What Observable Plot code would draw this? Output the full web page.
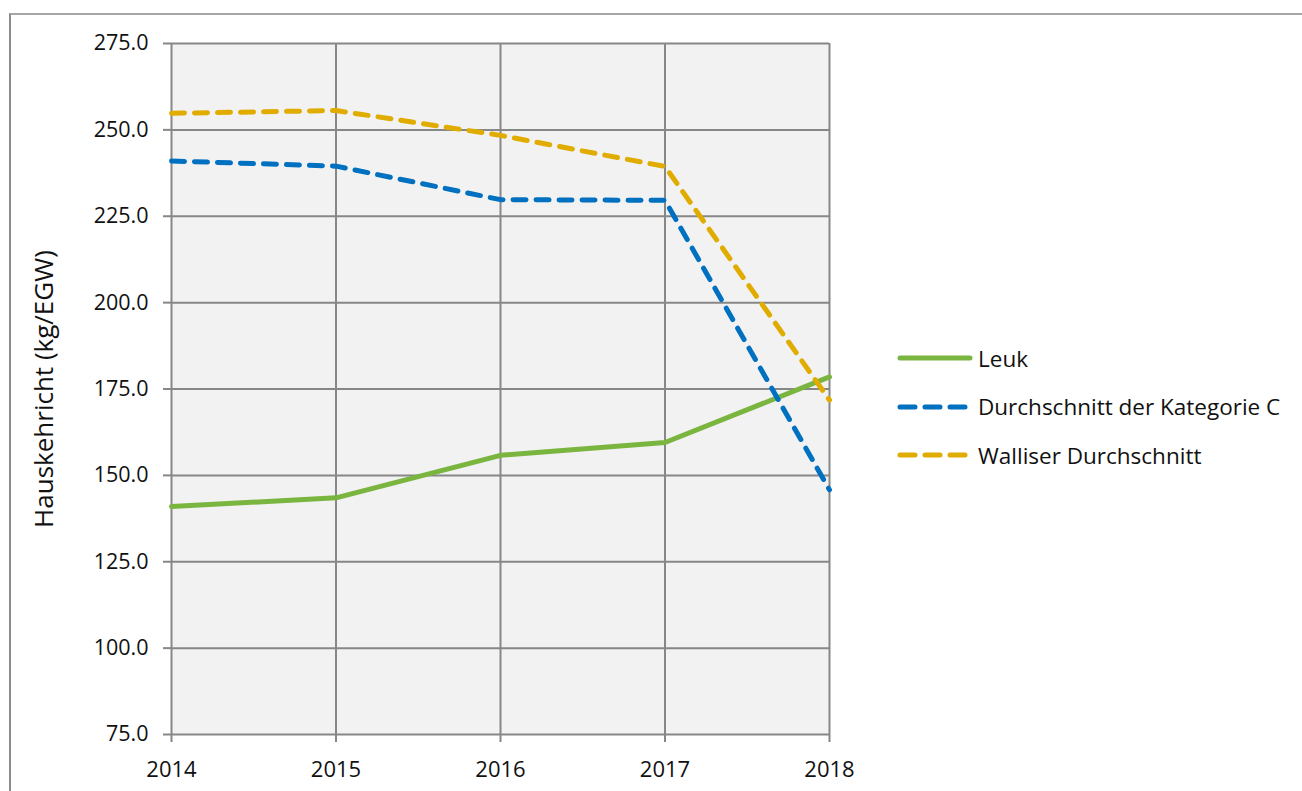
<!DOCTYPE html>
<html>
<head>
<meta charset="utf-8">
<script src="https://cdn.jsdelivr.net/npm/d3@7"></script>
<script src="https://cdn.jsdelivr.net/npm/@observablehq/plot@0.6"></script>
<style>
  html, body { margin: 0; padding: 0; background: #fff; overflow: hidden; }
  body { width: 1302px; height: 791px; position: relative; font-family: "Open Sans", "Liberation Sans", sans-serif; }
  #frame { position: absolute; left: 9px; top: 13px; width: 1400px; height: 900px; border-left: 2px solid #8c8c8c; border-top: 2px solid #a6a6a6; box-sizing: border-box; }
  #chart { position: absolute; left: 0; top: 0; }
  #legend { position: absolute; left: 897px; top: 334px; font-size: 22.5px; color: #111; }
  .row { display: flex; align-items: center; height: 48.5px; }
  .row svg { margin-right: 4px; }
</style>
</head>
<body>
<div id="frame"></div>
<div id="chart"></div>
<div id="legend"></div>
<script>
const years = [2014, 2015, 2016, 2017, 2018];
const leuk = [141.0, 143.5, 155.8, 159.5, 178.5];
const kategorieC = [241.0, 239.5, 229.8, 229.6, 145.8];
const wallis = [254.8, 255.6, 248.4, 239.4, 171.8];
const seriesNames = ["Leuk", "Durchschnitt der Kategorie C", "Walliser Durchschnitt"];
const seriesColors = ["#7ab540", "#0070c0", "#e1ac00"];
const seriesDash = [null, "13,10", "13,10"];
const yTicks = [75, 100, 125, 150, 175, 200, 225, 250, 275];

const seriesValues = [leuk, kategorieC, wallis];
const data = seriesNames.flatMap((name, i) =>
  years.map((yr, j) => ({ series: name, year: yr, value: seriesValues[i][j] })));

const grid = "#878787";
const chart = Plot.plot({
  width: 1302,
  height: 791,
  marginLeft: 171,
  marginRight: 473,
  marginTop: 43,
  marginBottom: 57,
  style: { fontFamily: "'Open Sans', 'Liberation Sans', sans-serif", fontSize: "21px", color: "#111", background: "transparent" },
  x: { domain: [2014, 2018], type: "linear" },
  y: { domain: [75, 275] },
  marks: [
    Plot.frame({ fill: "#f2f2f2", stroke: null }),
    Plot.ruleX(years, { stroke: grid, strokeWidth: 2 }),
    Plot.ruleY(yTicks, { stroke: grid, strokeWidth: 2 }),
    Plot.axisY({ ticks: yTicks, tickFormat: d3.format(".1f"), tickSize: 8, tickPadding: 15, stroke: grid, strokeWidth: 2,
      label: null, fontSize: 21.5 }),
    Plot.axisY({ ticks: [], tickSize: 0, label: "Hauskehricht (kg/EGW)", labelAnchor: "center", labelArrow: "none",
      labelOffset: 137, fontSize: 26 }),
    Plot.axisX({ ticks: years, tickFormat: d3.format("d"), tickSize: 8, tickPadding: 19, stroke: grid, strokeWidth: 2, label: null, fontSize: 22 }),
    ...seriesNames.map((name, i) =>
      Plot.line(data.filter(d => d.series === name), {
        x: "year", y: "value", stroke: seriesColors[i], strokeWidth: 5,
        strokeDasharray: seriesDash[i], strokeLinecap: "round", strokeLinejoin: "round"
      }))
  ]
});
document.getElementById("chart").appendChild(chart);

const legend = document.getElementById("legend");
seriesNames.forEach((name, i) => {
  const row = document.createElement("div");
  row.className = "row";
  const dash = seriesDash[i] ? `stroke-dasharray="15,10"` : "";
  row.innerHTML = `<svg width="77" height="10"><line x1="3" y1="5" x2="73" y2="5" stroke="${seriesColors[i]}" stroke-width="5" stroke-linecap="round" ${dash}/></svg><span>${name}</span>`;
  legend.appendChild(row);
});
</script>
</body>
</html>
